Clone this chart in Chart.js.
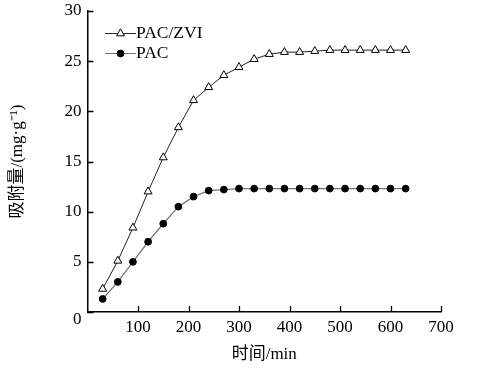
<!DOCTYPE html>
<html>
<head>
<meta charset="utf-8">
<script src="https://cdn.jsdelivr.net/npm/chart.js@4"></script>
<style>
html,body{margin:0;padding:0;background:#fff;}
#wrap{width:502px;height:373px;position:relative;}
</style>
</head>
<body>
<div id="wrap"><canvas id="c" width="502" height="373"></canvas></div>
<script>
const timeMin = [30,60,90,120,150,180,210,240,270,300,330,360,390,420,450,480,510,540,570,600,630];
const pacZvi = [2.3,5.1,8.4,12.0,15.4,18.4,21.1,22.4,23.6,24.4,25.2,25.7,25.9,25.9,26.0,26.1,26.1,26.1,26.1,26.1,26.1];
const pac = [1.3,3.0,5.0,7.0,8.8,10.5,11.5,12.1,12.2,12.3,12.3,12.3,12.3,12.3,12.3,12.3,12.3,12.3,12.3,12.3,12.3];
const seriesNames = ['PAC/ZVI','PAC'];
const xTicks = [100,200,300,400,500,600,700];
const yTicks = [0,5,10,15,20,25,30];
const xTitle = '时间/min';
const yTitle = '吸附量/(mg·g⁻¹)';

const FONT = '"Liberation Serif","Noto Sans CJK SC",serif';

function pts(arr){ return timeMin.map((t,i)=>({x:t,y:arr[i]})); }

const tickPlugin = {
  id:'inTicks',
  afterDraw(chart){
    const ctx = chart.ctx, xs = chart.scales.x, ys = chart.scales.y;
    const a = chart.chartArea;
    ctx.save();
    ctx.strokeStyle = '#000'; ctx.lineWidth = 1.3;
    ctx.beginPath();
    xTicks.forEach(v=>{ const px = Math.round(xs.getPixelForValue(v))+0.5; ctx.moveTo(px,a.bottom); ctx.lineTo(px,a.bottom-6); });
    yTicks.forEach(v=>{ const py = Math.round(ys.getPixelForValue(v))+0.5; ctx.moveTo(a.left,py); ctx.lineTo(a.left+6,py); });
    ctx.stroke();
    ctx.restore();
  }
};

function drawMarker(ctx, style, x, y, r){
  ctx.beginPath();
  if(style==='triangle'){
    let rad = 0;
    for(let k=0;k<3;k++){
      const px = x + Math.sin(rad)*r, py = y - Math.cos(rad)*r;
      if(k===0) ctx.moveTo(px,py); else ctx.lineTo(px,py);
      rad += 2*Math.PI/3;
    }
    ctx.closePath();
  } else {
    ctx.arc(x,y,r,0,Math.PI*2);
  }
  ctx.fill(); ctx.stroke();
}

const legendPlugin = {
  id:'lineLegend',
  afterDatasetsDraw(chart){
    const ctx = chart.ctx;
    const rows = [33.5, 53.5];
    ctx.save();
    chart.data.datasets.forEach((ds,i)=>{
      const y = rows[i];
      ctx.strokeStyle = ds.borderColor; ctx.lineWidth = 1;
      ctx.beginPath(); ctx.moveTo(105,y); ctx.lineTo(136,y); ctx.stroke();
      ctx.fillStyle = ds.pointBackgroundColor; ctx.strokeStyle = '#000'; ctx.lineWidth = 1;
      drawMarker(ctx, ds.pointStyle, 120.5, y, ds.pointRadius);
      ctx.fillStyle = '#000';
      ctx.font = '17.5px ' + FONT;
      ctx.textBaseline = 'middle'; ctx.textAlign = 'left';
      ctx.fillText(seriesNames[i], 136, y);
    });
    ctx.restore();
  }
};

new Chart(document.getElementById('c'), {
  type:'line',
  data:{
    datasets:[
      {label:seriesNames[0], data:pts(pacZvi), borderColor:'#222', borderWidth:1,
       pointStyle:'triangle', pointRadius:4.6, pointBackgroundColor:'#fff', pointBorderColor:'#000', pointBorderWidth:1, tension:0},
      {label:seriesNames[1], data:pts(pac), borderColor:'#777', borderWidth:1.3,
       pointStyle:'circle', pointRadius:3.4, pointBackgroundColor:'#000', pointBorderColor:'#000', pointBorderWidth:1, tension:0}
    ]
  },
  options:{
    responsive:false, animation:false,
    devicePixelRatio:1,
    layout:{padding:{top:11,right:61,left:0,bottom:0}},
    plugins:{legend:{display:false}, tooltip:{enabled:false}},
    scales:{
      x:{type:'linear', min:0, max:700,
        afterFit(s){ s.height = 61; s.paddingLeft = 0; s.paddingRight = 0; },
        afterBuildTicks(s){ s.ticks = xTicks.map(v=>({value:v})); },
        grid:{display:false, drawTicks:false},
        border:{display:true, color:'#000', width:1.5},
        ticks:{color:'#000', padding:5, maxRotation:0, font:{family:FONT, size:17}},
        title:{display:true, text:xTitle, color:'#000', padding:8, font:{family:FONT, size:17}}
      },
      y:{min:0, max:30,
        afterFit(s){ s.width = 87.5; s.paddingTop = 0; s.paddingBottom = 0; },
        afterBuildTicks(s){ s.ticks = yTicks.map(v=>({value:v})); },
        grid:{display:false, drawTicks:false},
        border:{display:true, color:'#000', width:1.5},
        ticks:{color:'#000', padding:6,
          callback:(v)=> v===0 ? ['', '0'] : String(v),
          font:(c)=> (c.tick && c.tick.value===0) ? {family:FONT, size:17, lineHeight:0.9} : {family:FONT, size:17}},
        title:{display:true, text:yTitle, color:'#000', padding:7, font:{family:FONT, size:17}}
      }
    }
  },
  plugins:[tickPlugin, legendPlugin]
});
</script>
</body>
</html>
